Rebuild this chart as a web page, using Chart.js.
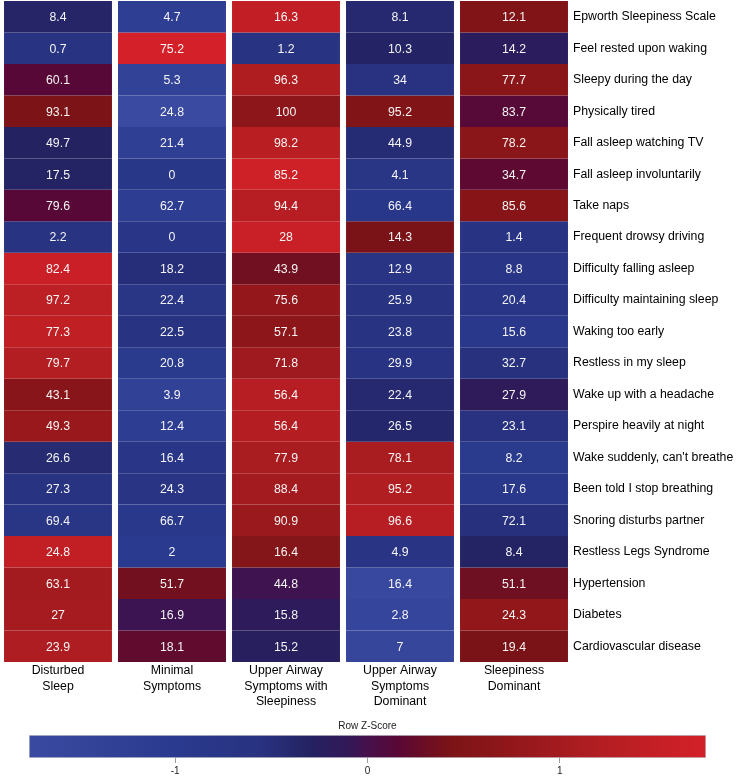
<!DOCTYPE html>
<html>
<head>
<meta charset="utf-8">
<script src="https://cdn.jsdelivr.net/npm/chart.js@4.4.0/dist/chart.umd.min.js"></script>
<style>
  body { margin: 0; background: #fff; }
  canvas { display: block; }
</style>
</head>
<body>
<canvas id="heat" width="736" height="715"></canvas>
<canvas id="scale" width="736" height="62"></canvas>
<script>
const groups = [
  ['Disturbed', 'Sleep'],
  ['Minimal', 'Symptoms'],
  ['Upper Airway', 'Symptoms with', 'Sleepiness'],
  ['Upper Airway', 'Symptoms', 'Dominant'],
  ['Sleepiness', 'Dominant']
];
const symptoms = [
  'Epworth Sleepiness Scale', 'Feel rested upon waking', 'Sleepy during the day',
  'Physically tired', 'Fall asleep watching TV', 'Fall asleep involuntarily',
  'Take naps', 'Frequent drowsy driving', 'Difficulty falling asleep',
  'Difficulty maintaining sleep', 'Waking too early', 'Restless in my sleep',
  'Wake up with a headache', 'Perspire heavily at night', "Wake suddenly, can't breathe",
  'Been told I stop breathing', 'Snoring disturbs partner', 'Restless Legs Syndrome',
  'Hypertension', 'Diabetes', 'Cardiovascular disease'
];
// one array per cluster, top row first
const disturbed = [8.4, 0.7, 60.1, 93.1, 49.7, 17.5, 79.6, 2.2, 82.4, 97.2, 77.3, 79.7, 43.1, 49.3, 26.6, 27.3, 69.4, 24.8, 63.1, 27, 23.9];
const minimal = [4.7, 75.2, 5.3, 24.8, 21.4, 0, 62.7, 0, 18.2, 22.4, 22.5, 20.8, 3.9, 12.4, 16.4, 24.3, 66.7, 2, 51.7, 16.9, 18.1];
const upperSleepy = [16.3, 1.2, 96.3, 100, 98.2, 85.2, 94.4, 28, 43.9, 75.6, 57.1, 71.8, 56.4, 56.4, 77.9, 88.4, 90.9, 16.4, 44.8, 15.8, 15.2];
const upperDominant = [8.1, 10.3, 34, 95.2, 44.9, 4.1, 66.4, 14.3, 12.9, 25.9, 23.8, 29.9, 22.4, 26.5, 78.1, 95.2, 96.6, 4.9, 16.4, 2.8, 7];
const sleepiness = [12.1, 14.2, 77.7, 83.7, 78.2, 34.7, 85.6, 1.4, 8.8, 20.4, 15.6, 32.7, 27.9, 23.1, 8.2, 17.6, 72.1, 8.4, 51.1, 24.3, 19.4];
const columns = [disturbed, minimal, upperSleepy, upperDominant, sleepiness];

const zMin = -1.76, zMax = 1.76;
const zTicks = [-1, 0, 1];
// colour ramp: [z, r, g, b]
const ramp = [
  [-1.76, 58, 74, 160], [-1.0, 42, 58, 142], [-0.55, 40, 50, 128], [-0.3, 36, 34, 98],
  [-0.1, 50, 24, 88], [0.0, 70, 16, 76], [0.15, 88, 8, 54], [0.3, 108, 14, 36],
  [0.45, 125, 20, 22], [0.7, 142, 22, 26], [1.2, 178, 30, 34], [1.76, 212, 32, 40]
];

function colorFor(z) {
  z = Math.max(zMin, Math.min(zMax, z));
  for (let k = 1; k < ramp.length; k++) {
    const a = ramp[k - 1], b = ramp[k];
    if (z <= b[0]) {
      const t = (z - a[0]) / (b[0] - a[0]);
      const c = [1, 2, 3].map(i => Math.round(a[i] + (b[i] - a[i]) * t));
      return 'rgb(' + c.join(',') + ')';
    }
  }
  const l = ramp[ramp.length - 1];
  return 'rgb(' + l[1] + ',' + l[2] + ',' + l[3] + ')';
}

function rowZ(i) {
  const vals = columns.map(c => c[i]);
  const mean = vals.reduce((s, v) => s + v, 0) / vals.length;
  const sd = Math.sqrt(vals.reduce((s, v) => s + (v - mean) ** 2, 0) / (vals.length - 1));
  return vals.map(v => (v - mean) / sd);
}

Chart.defaults.font.family = 'Arial, "Liberation Sans", sans-serif';
Chart.defaults.color = '#000';

const datasets = symptoms.map((name, i) => ({
  label: name,
  data: columns.map(() => 1),
  backgroundColor: rowZ(i).map(colorFor),
  borderWidth: 0,
  stack: 'rows',
  categoryPercentage: 1,
  barPercentage: 0.947
}));

const cellText = {
  id: 'cellText',
  afterDatasetsDraw(chart) {
    const ctx = chart.ctx;
    ctx.save();
    ctx.font = '12.3px Arial, "Liberation Sans", sans-serif';
    ctx.fillStyle = '#f4f4f4';
    ctx.textAlign = 'center';
    ctx.textBaseline = 'middle';
    chart.data.datasets.forEach((ds, i) => {
      chart.getDatasetMeta(i).data.forEach((bar, j) => {
        ctx.fillText(String(columns[j][i]), bar.x, (bar.y + bar.base) / 2 + 1);
      });
    });
    ctx.restore();
  }
};

new Chart(document.getElementById('heat'), {
  type: 'bar',
  data: { labels: groups, datasets: datasets },
  options: {
    responsive: false,
    animation: false,
    layout: { padding: { top: 1, left: 1, right: 0, bottom: 0 } },
    plugins: { legend: { display: false }, tooltip: { enabled: false } },
    scales: {
      x: {
        stacked: true,
        grid: { display: false, drawTicks: false },
        border: { display: false },
        ticks: { font: { size: 12.3, lineHeight: '15.5px' }, padding: 1, maxRotation: 0, autoSkip: false },
        afterFit(scale) { scale.height = 53; scale.paddingLeft = 0; scale.paddingRight = 0; }
      },
      y: {
        stacked: true,
        min: 0,
        max: symptoms.length,
        reverse: true,
        display: false
      },
      y2: {
        type: 'category',
        position: 'right',
        labels: symptoms,
        offset: true,
        grid: { display: false, drawTicks: false },
        border: { display: false },
        ticks: { font: { size: 12.3 }, padding: 2, autoSkip: false },
        afterFit(scale) { scale.width = 165; scale.paddingTop = 0; scale.paddingBottom = 0; }
      }
    }
  },
  plugins: [cellText]
});

new Chart(document.getElementById('scale'), {
  type: 'bar',
  data: {
    labels: ['z'],
    datasets: [{
      data: [[zMin, zMax]],
      backgroundColor(context) {
        const chart = context.chart;
        if (!chart.chartArea) return null;
        const xs = chart.scales.x;
        const g = chart.ctx.createLinearGradient(xs.left, 0, xs.right, 0);
        ramp.forEach(s => g.addColorStop((s[0] - zMin) / (zMax - zMin), colorFor(s[0])));
        return g;
      },
      borderColor: '#c4c4cc',
      borderWidth: 1,
      borderSkipped: false,
      barPercentage: 1,
      categoryPercentage: 1
    }]
  },
  options: {
    indexAxis: 'y',
    responsive: false,
    animation: false,
    layout: { padding: { left: 29, right: 30 } },
    plugins: {
      legend: { display: false },
      tooltip: { enabled: false },
      title: {
        display: true,
        text: 'Row Z-Score',
        color: '#222',
        font: { size: 10, weight: 'normal', lineHeight: '12px' },
        padding: { top: 5, bottom: 3 }
      }
    },
    scales: {
      x: {
        type: 'linear',
        min: zMin,
        max: zMax,
        afterBuildTicks(scale) { scale.ticks = zTicks.map(v => ({ value: v })); },
        grid: { drawOnChartArea: false, tickLength: 5, color: '#999' },
        border: { display: false },
        ticks: { font: { size: 10, lineHeight: '12px' }, color: '#222', padding: 2 },
        afterFit(scale) { scale.height = 19; }
      },
      y: { display: false }
    }
  }
});
</script>
</body>
</html>
